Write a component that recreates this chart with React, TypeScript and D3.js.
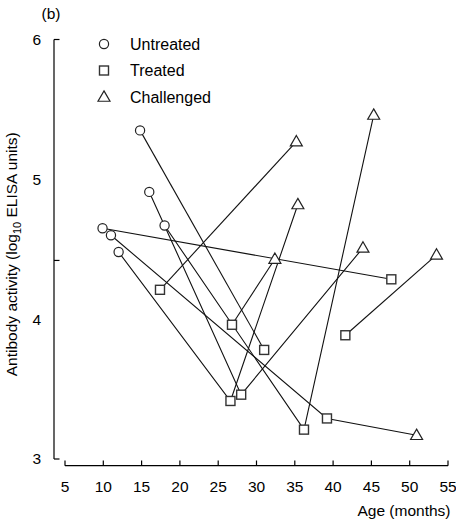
import React from "react";
import * as d3 from "d3";

// ---- data ----
const untreatedAge = [14.8, 16.0, 18.0, 9.9, 11.0, 12.0];
const untreatedLog = [5.35, 4.91, 4.67, 4.65, 4.6, 4.48];

const treatedAge = [17.4, 26.8, 31.0, 28.0, 26.6, 36.2, 39.2, 47.6, 41.6];
const treatedLog = [4.21, 3.96, 3.78, 3.46, 3.415, 3.21, 3.29, 4.285, 3.885];

const challengedAge = [35.2, 45.3, 35.4, 32.4, 43.9, 53.5, 50.9];
const challengedLog = [5.27, 5.46, 4.82, 4.43, 4.51, 4.46, 3.17];

// each animal: [untreated index, treated index, challenged index] (-1 = none)
const animals = [
  [0, 2, -1],
  [1, 3, 4],
  [2, 5, 1],
  [3, 7, -1],
  [4, 6, 6],
  [5, 4, 2],
  [-1, 0, 0],
  [-1, 1, 3],
  [-1, 8, 5],
];

const xTicks = [5, 10, 15, 20, 25, 30, 35, 40, 45, 50, 55];
const yTickLabels = [3, 4, 5, 6];
const yTickMarks = [3, 4.42, 6];
const legendItems = ["Untreated", "Treated", "Challenged"];

const W = 456;
const H = 520;
const FONT = "'Liberation Sans', Arial, Helvetica, sans-serif";

const x = d3.scaleLinear().domain([5, 55]).range([65, 448]);
const y = d3.scaleLinear().domain([3, 6]).range([459, 39.5]);

const STROKE = "#222";

function Marker({ kind, cx, cy }: { kind: number; cx: number; cy: number }) {
  if (kind === 0) {
    return <circle cx={cx} cy={cy} r={4.6} fill="#fff" stroke={STROKE} strokeWidth={1.2} />;
  }
  if (kind === 1) {
    const s = 9;
    return (
      <rect x={cx - s / 2} y={cy - s / 2} width={s} height={s} fill="#fff" stroke="#333" strokeWidth={1.4} />
    );
  }
  const tri = d3.symbol().type(d3.symbolTriangle).size(62)();
  return <path d={tri as string} transform={`translate(${cx},${cy + 0.8})`} fill="#fff" stroke={STROKE} strokeWidth={1.2} strokeLinejoin="miter" />;
}

export default function App() {
  const ages = [untreatedAge, treatedAge, challengedAge];
  const logs = [untreatedLog, treatedLog, challengedLog];

  const paths = animals.map((a) => {
    const pts: [number, number][] = [];
    a.forEach((idx, k) => {
      if (idx >= 0) pts.push([x(ages[k][idx]), y(logs[k][idx])]);
    });
    return d3.line()(pts) as string;
  });

  const yMid = (y(3) + y(6)) / 2 + 5;

  return (
    <svg
      width={W}
      height={H}
      style={{ position: "absolute", left: 0, top: 0, background: "#fff" }}
      fontFamily={FONT}
    >
      <rect width={W} height={H} fill="#fff" />
      <text x={41.5} y={18.5} fontSize={15.5} fill="#000">(b)</text>

      {/* y axis */}
      <line x1={54} x2={54} y1={y(6)} y2={y(3)} stroke="#000" strokeWidth={1.2} />
      {yTickMarks.map((t) => (
        <line key={t} x1={54} x2={59.5} y1={y(t)} y2={y(t)} stroke="#000" strokeWidth={1.2} />
      ))}
      {yTickLabels.map((t) => (
        <text key={t} x={41} y={y(t)} dy="0.35em" textAnchor="end" fontSize={15.5} fill="#000">
          {t}
        </text>
      ))}
      <text
        transform={`translate(16.5, ${yMid}) rotate(-90)`}
        textAnchor="middle"
        fontSize={15.5}
        fill="#000"
      >
        Antibody activity (log
        <tspan fontSize={11} dy={4}>10</tspan>
        <tspan dy={-4}> ELISA units)</tspan>
      </text>

      {/* x axis */}
      <line x1={x(5)} x2={x(55)} y1={465.7} y2={465.7} stroke="#000" strokeWidth={1.2} />
      {xTicks.map((t) => (
        <g key={t}>
          <line x1={x(t)} x2={x(t)} y1={465.7} y2={460.5} stroke="#000" strokeWidth={1.2} />
          <text x={x(t)} y={492} textAnchor="middle" fontSize={15.5} fill="#000">
            {t}
          </text>
        </g>
      ))}
      <text x={450.5} y={516} textAnchor="end" fontSize={15.5} fill="#000">
        Age (months)
      </text>

      {/* connecting lines */}
      {paths.map((d, i) => (
        <path key={i} d={d} fill="none" stroke="#111" strokeWidth={1.1} />
      ))}

      {/* markers */}
      {ages.map((arr, k) =>
        arr.map((a, i) => <Marker key={`${k}-${i}`} kind={k} cx={x(a)} cy={y(logs[k][i])} />)
      )}

      {/* legend */}
      {legendItems.map((name, k) => (
        <g key={name}>
          <Marker kind={k} cx={104} cy={44 + k * 26.5} />
          <text x={130} y={44 + k * 26.5} dy="0.35em" fontSize={16} fill="#000">
            {name}
          </text>
        </g>
      ))}
    </svg>
  );
}
